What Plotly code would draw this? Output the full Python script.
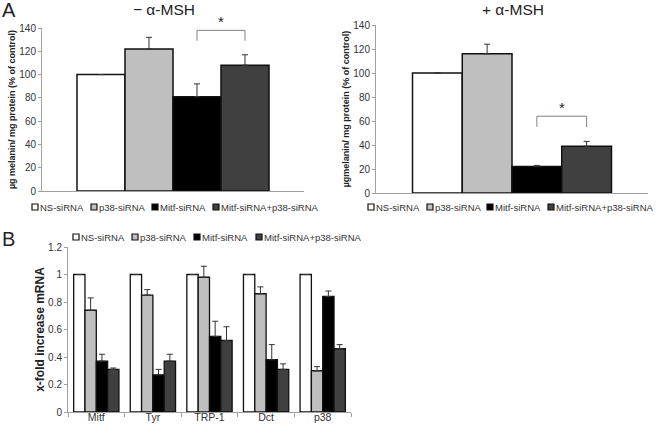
import plotly.graph_objects as go

W, H = 656, 428

# ---------------- data ----------------
conditions = ["NS-siRNA", "p38-siRNA", "Mitf-siRNA", "Mitf-siRNA+p38-siRNA"]
bar_colors = ["#ffffff", "#bfbfbf", "#000000", "#404040"]

melanin_minus = [100, 122, 81, 108]
melanin_minus_err = [0, 10, 11, 9]
melanin_plus = [100, 116, 22, 39]
melanin_plus_err = [0, 8, 1, 4]

genes = ["Mitf", "Tyr", "TRP-1", "Dct", "p38"]
mrna_ns = [1, 1, 1, 1, 1]
mrna_p38 = [0.74, 0.85, 0.98, 0.86, 0.30]
mrna_mitf = [0.37, 0.27, 0.55, 0.38, 0.84]
mrna_combo = [0.31, 0.37, 0.52, 0.31, 0.46]
err_ns = [0, 0, 0, 0, 0]
err_p38 = [0.09, 0.04, 0.08, 0.05, 0.03]
err_mitf = [0.05, 0.04, 0.11, 0.11, 0.04]
err_combo = [0.01, 0.05, 0.10, 0.04, 0.03]

y_ticks_a = [0, 20, 40, 60, 80, 100, 120, 140]
y_ticks_b = [0, 0.2, 0.4, 0.6, 0.8, 1, 1.2]

# ---------------- helpers ----------------
FONT = "Liberation Sans, Arial, sans-serif"
AXCOL = "#a0a0a0"
TXT = "#333333"


def px(x):
    return x / W


def py(y):
    return 1 - y / H


def err_style(arr):
    return dict(type="data", array=arr, arrayminus=[0] * len(arr), symmetric=False,
                color="#333333", thickness=1, width=3)


fig = go.Figure()

# Panel A, -alpha-MSH
fig.add_trace(go.Bar(x=conditions, y=melanin_minus, width=1,
                     marker=dict(color=bar_colors, line=dict(color="#111111", width=1.5)),
                     error_y=err_style(melanin_minus_err), xaxis="x", yaxis="y",
                     showlegend=False))
# Panel A, +alpha-MSH
fig.add_trace(go.Bar(x=conditions, y=melanin_plus, width=1,
                     marker=dict(color=bar_colors, line=dict(color="#111111", width=1.5)),
                     error_y=err_style(melanin_plus_err), xaxis="x2", yaxis="y2",
                     showlegend=False))
# Panel B
for name, vals, errs, col in zip(conditions, [mrna_ns, mrna_p38, mrna_mitf, mrna_combo],
                                 [err_ns, err_p38, err_mitf, err_combo], bar_colors):
    fig.add_trace(go.Bar(x=genes, y=vals, name=name,
                         marker=dict(color=col, line=dict(color="#111111", width=1.3)),
                         error_y=err_style(errs), xaxis="x3", yaxis="y3",
                         showlegend=False))

tickfont = dict(family=FONT, size=10, color=TXT)
common_y = dict(showgrid=False, zeroline=False, showline=True, linecolor=AXCOL, linewidth=1,
                ticks="outside", ticklen=3, tickcolor=AXCOL, tickfont=tickfont,
                automargin=False)
common_x = dict(showgrid=False, zeroline=False, showline=True, linecolor=AXCOL, linewidth=1,
                automargin=False)

fig.update_layout(
    width=W, height=H, margin=dict(l=0, r=0, t=0, b=0, autoexpand=False),
    paper_bgcolor="white", plot_bgcolor="white",
    barmode="group", bargap=0.2, bargroupgap=0,
    font=dict(family=FONT, color=TXT),
    xaxis=dict(domain=[px(42), px(304)], range=[-1.229, 4.229], showticklabels=False,
               ticks="", anchor="y", **common_x),
    yaxis=dict(domain=[py(191), py(28)], range=[0, 140], tickvals=y_ticks_a, anchor="x",
               title=dict(text="µg melanin/ mg protein (% of control)", standoff=2,
                          font=dict(family=FONT, size=9, weight="bold", color="#222222")),
               **common_y),
    xaxis2=dict(domain=[px(376), px(648)], range=[-1.234, 4.234], showticklabels=False,
                ticks="", anchor="y2", **common_x),
    yaxis2=dict(domain=[py(193), py(25)], range=[0, 140], tickvals=y_ticks_a, anchor="x2",
                title=dict(text="µgmelanin/ mg protein (% of control)", standoff=2,
                           font=dict(family=FONT, size=9, weight="bold", color="#222222")),
                **common_y),
    xaxis3=dict(domain=[px(68), px(351)], anchor="y3", ticks="outside", tickson="boundaries",
                ticklen=4, tickcolor=AXCOL, tickfont=dict(family=FONT, size=10.5, color=TXT),
                **common_x),
    yaxis3=dict(domain=[py(412), py(247)], range=[0, 1.2], tickvals=y_ticks_b, anchor="x3",
                title=dict(text="x-fold increase mRNA", standoff=0,
                           font=dict(family=FONT, size=12, weight="bold", color="#222222")),
                **common_y),
)
try:
    fig.update_layout(xaxis3=dict(ticklabelstandoff=-5))
except Exception:
    pass

# ---------------- significance brackets ----------------
shapes = []
annotations = []
for vals, errs, xr, yr in [(melanin_minus, melanin_minus_err, "x", "y"),
                           (melanin_plus, melanin_plus_err, "x2", "y2")]:
    top = max(vals[2] + errs[2], vals[3] + errs[3]) + 21
    low = top - 9
    line = dict(color="#808080", width=1)
    shapes.append(dict(type="line", xref=xr, yref=yr, x0=2, x1=2, y0=low, y1=top, line=line))
    shapes.append(dict(type="line", xref=xr, yref=yr, x0=2, x1=3, y0=top, y1=top, line=line))
    shapes.append(dict(type="line", xref=xr, yref=yr, x0=3, x1=3, y0=top, y1=low, line=line))
    annotations.append(dict(xref=xr, yref=yr, x=2.5, y=top, text="*", showarrow=False,
                            yanchor="bottom", yshift=-2,
                            font=dict(family=FONT, size=15, color="#222222")))

# ---------------- titles & panel letters ----------------
annotations += [
    dict(xref="paper", yref="paper", x=px(164), y=py(9), text="− α-MSH", showarrow=False,
         xanchor="center", yanchor="middle",
         font=dict(family=FONT, size=15.5, color="#222222")),
    dict(xref="paper", yref="paper", x=px(513), y=py(9), text="+ α-MSH", showarrow=False,
         xanchor="center", yanchor="middle",
         font=dict(family=FONT, size=15.5, color="#222222")),
    dict(xref="paper", yref="paper", x=px(0), y=py(10), text="A", showarrow=False,
         xanchor="left", yanchor="middle", font=dict(family=FONT, size=20, color="#222222")),
    dict(xref="paper", yref="paper", x=px(0), y=py(239), text="B", showarrow=False,
         xanchor="left", yanchor="middle", font=dict(family=FONT, size=20, color="#222222")),
]

# ---------------- legends (key squares + labels) ----------------
legend_rows = [
    ([32, 91, 152, 213], 207),
    ([368, 427, 487, 548], 207),
    ([73, 132, 194, 256], 237),
]
SQ = 6
for xs, yc in legend_rows:
    for x0, name, col in zip(xs, conditions, bar_colors):
        shapes.append(dict(type="rect", xref="paper", yref="paper",
                           x0=px(x0), x1=px(x0 + SQ), y0=py(yc + SQ / 2), y1=py(yc - SQ / 2),
                           fillcolor=col, line=dict(color="#111111", width=1.2)))
        annotations.append(dict(xref="paper", yref="paper", x=px(x0 + SQ), y=py(yc),
                                text=name, showarrow=False, xanchor="left", yanchor="middle",
                                font=dict(family=FONT, size=9.5, color=TXT)))

fig.update_layout(shapes=shapes, annotations=annotations)

fig.write_html("out.html", config={"displayModeBar": False},
               post_script="document.body.style.margin='0';document.body.style.overflow='hidden';")
